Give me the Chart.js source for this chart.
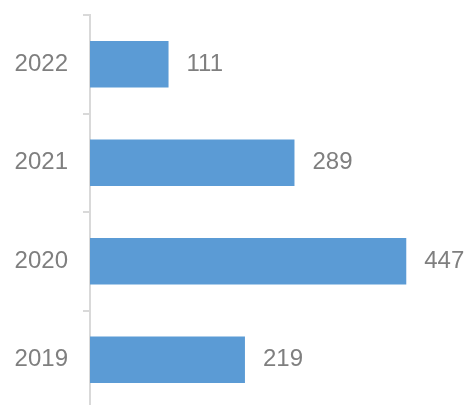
<!DOCTYPE html>
<html>
<head>
<meta charset="utf-8">
<script src="https://cdn.jsdelivr.net/npm/chart.js@4.4.0/dist/chart.umd.min.js"></script>
<style>
  html, body { margin: 0; padding: 0; background: #fff; overflow: hidden; }
  canvas { display: block; }
</style>
</head>
<body>
<canvas id="barChart" width="465" height="409"></canvas>
<script>
const years = ['2022', '2021', '2020', '2019'];
const values = [111, 289, 447, 219];

const barColor = '#5b9bd5';
const textGray = '#7f7f7f';
const axisGray = '#d9d9d9';

// value labels to the right of each bar
const valueLabels = {
  id: 'valueLabels',
  afterDatasetsDraw(chart) {
    const ctx = chart.ctx;
    const meta = chart.getDatasetMeta(0);
    ctx.save();
    ctx.fillStyle = textGray;
    ctx.font = '24px "Liberation Sans", Arial, sans-serif';
    ctx.textAlign = 'left';
    ctx.textBaseline = 'middle';
    meta.data.forEach((bar, i) => {
      ctx.fillText(values[i], bar.x + 18, bar.y);
    });
    ctx.restore();
  }
};

const ctx = document.getElementById('barChart').getContext('2d');
new Chart(ctx, {
  type: 'bar',
  data: {
    labels: years,
    datasets: [{
      data: values,
      backgroundColor: barColor,
      borderWidth: 0,
      categoryPercentage: 1,
      barPercentage: 0.47
    }]
  },
  options: {
    indexAxis: 'y',
    responsive: false,
    animation: false,
    layout: { padding: { top: 15, right: 0, bottom: 0, left: 0 } },
    plugins: {
      legend: { display: false },
      tooltip: { enabled: false }
    },
    scales: {
      x: {
        display: false,
        min: 0,
        max: 530
      },
      y: {
        afterFit(scale) {
          scale.width = 90;
          scale.paddingTop = 0;
          scale.paddingBottom = 0;
        },
        grid: {
          offset: true,
          drawOnChartArea: false,
          drawTicks: true,
          tickLength: 7,
          color: axisGray,
          lineWidth: 2
        },
        border: { color: axisGray, width: 2 },
        ticks: {
          color: textGray,
          padding: 15,
          font: { family: '"Liberation Sans", Arial, sans-serif', size: 24 }
        }
      }
    }
  },
  plugins: [valueLabels]
});
</script>
</body>
</html>
